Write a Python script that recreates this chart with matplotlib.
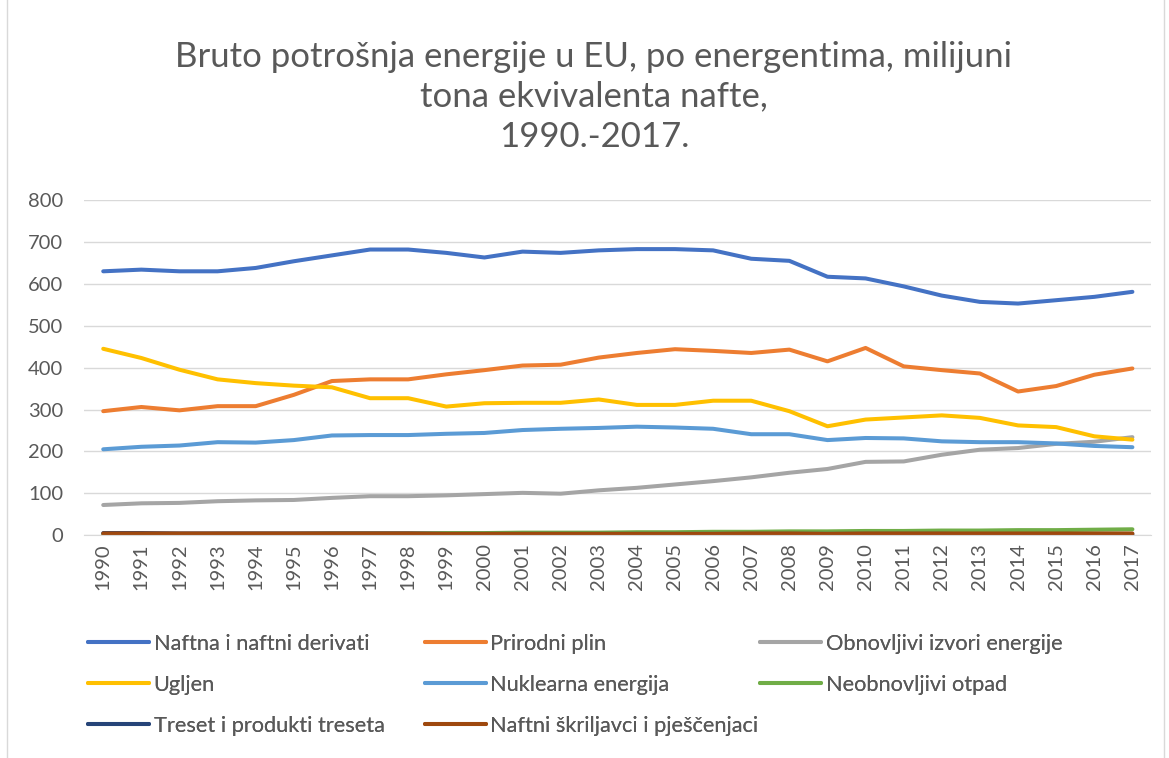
import matplotlib
matplotlib.use('Agg')
import matplotlib.pyplot as plt
from matplotlib.patches import Rectangle

# data (milijuni tona ekvivalenta nafte)
years = list(range(1990, 2018))

nafta = [630, 634, 630, 630, 638, 654, 668, 682, 682, 674, 663, 677, 674, 680,
         683, 683, 680, 660, 655, 617, 613, 594, 572, 557, 553, 561, 569, 581]
plin = [296, 306, 298, 308, 308, 335, 368, 372, 372, 384, 394, 405, 407, 424,
        435, 444, 440, 435, 443, 415, 447, 403, 394, 386, 343, 356, 383, 398]
obnovljivi = [72, 76, 77, 81, 83, 84, 89, 93, 93, 95, 98, 101, 99, 107,
              113, 121, 129, 138, 149, 158, 175, 176, 192, 204, 208, 218, 223, 234]
ugljen = [445, 423, 395, 372, 363, 357, 353, 327, 327, 307, 315, 316, 316, 324,
          311, 311, 321, 321, 296, 260, 276, 281, 286, 280, 262, 258, 236, 228]
nuklearna = [205, 211, 214, 222, 221, 227, 238, 239, 239, 242, 244, 251, 254, 256,
             259, 257, 254, 241, 241, 227, 232, 231, 224, 222, 222, 219, 213, 210]
otpad = [2, 2, 2, 3, 3, 3, 4, 4, 4, 5, 5, 6, 6, 6,
         7, 7, 8, 8, 9, 9, 10, 10, 11, 11, 12, 12, 13, 14]
treset = [5, 5, 4, 4, 4, 4, 4, 4, 4, 3, 3, 3, 3, 3,
          3, 3, 3, 3, 3, 3, 3, 3, 3, 2, 2, 2, 2, 2]
skriljavci = [4, 4, 4, 4, 4, 4, 4, 4, 4, 3, 3, 3, 3, 3,
              3, 3, 3, 4, 4, 3, 4, 4, 4, 4, 4, 4, 4, 4]

series = [
    ('Naftna i naftni derivati', nafta, '#4472C4'),
    ('Prirodni plin', plin, '#ED7D31'),
    ('Obnovljivi izvori energije', obnovljivi, '#A5A5A5'),
    ('Ugljen', ugljen, '#FFC000'),
    ('Nuklearna energija', nuklearna, '#5B9BD5'),
    ('Neobnovljivi otpad', otpad, '#70AD47'),
    ('Treset i produkti treseta', treset, '#264478'),
    ('Naftni škriljavci i pješčenjaci', skriljavci, '#9E480E'),
]

plt.rcParams['font.family'] = ['Lato', 'DejaVu Sans']
text_col = '#595959'

fig = plt.figure(figsize=(11.69, 7.58), dpi=100)
ax = fig.add_axes([0.072, 0.294, 0.913, 0.442])

x = list(range(len(years)))
lines = []
for name, vals, col in series:
    ln, = ax.plot(x, vals, color=col, lw=2.9, solid_capstyle='round',
                  solid_joinstyle='round', label=name)
    lines.append(ln)

ax.set_xlim(-0.5, len(years) - 0.5)
ax.set_ylim(0, 800)
ax.set_yticks(range(0, 801, 100))
ax.set_xticks(x)
ax.set_xticklabels([str(y) for y in years], rotation=90)
ax.grid(axis='y', color='#D9D9D9', lw=1)
ax.set_axisbelow(True)
for s in ['top', 'right', 'left']:
    ax.spines[s].set_visible(False)
ax.spines['bottom'].set_color('#D9D9D9')
ax.tick_params(axis='both', length=0, labelsize=14.5, colors=text_col)
ax.tick_params(axis='y', pad=15)
ax.tick_params(axis='x', pad=6)

fig.text(0.508, 0.946, 'Bruto potrošnja energije u EU, po energentima, milijuni\n'
         'tona ekvivalenta nafte,\n1990.-2017.', ha='center', va='top',
         fontsize=25, color=text_col, linespacing=1.3)

# legend laid out in three columns like the original
cols = [[0, 3, 6], [1, 4, 7], [2, 5]]
xpos = [0.068, 0.356, 0.643]
for cx, idx in zip(xpos, cols):
    leg = fig.legend([lines[i] for i in idx], [series[i][0] for i in idx],
                     loc='upper left', bbox_to_anchor=(cx, 0.175),
                     frameon=False, fontsize=15.7, handlelength=2.8,
                     handletextpad=0.2, labelspacing=0.95, borderaxespad=0)
    for t in leg.get_texts():
        t.set_color(text_col)
    fig.add_artist(leg)

fig.patches.append(Rectangle((0.006, -0.01), 0.99, 1.02, transform=fig.transFigure,
                             fill=False, edgecolor='#D9D9D9', lw=1))

fig.savefig('out.png', dpi=100)
